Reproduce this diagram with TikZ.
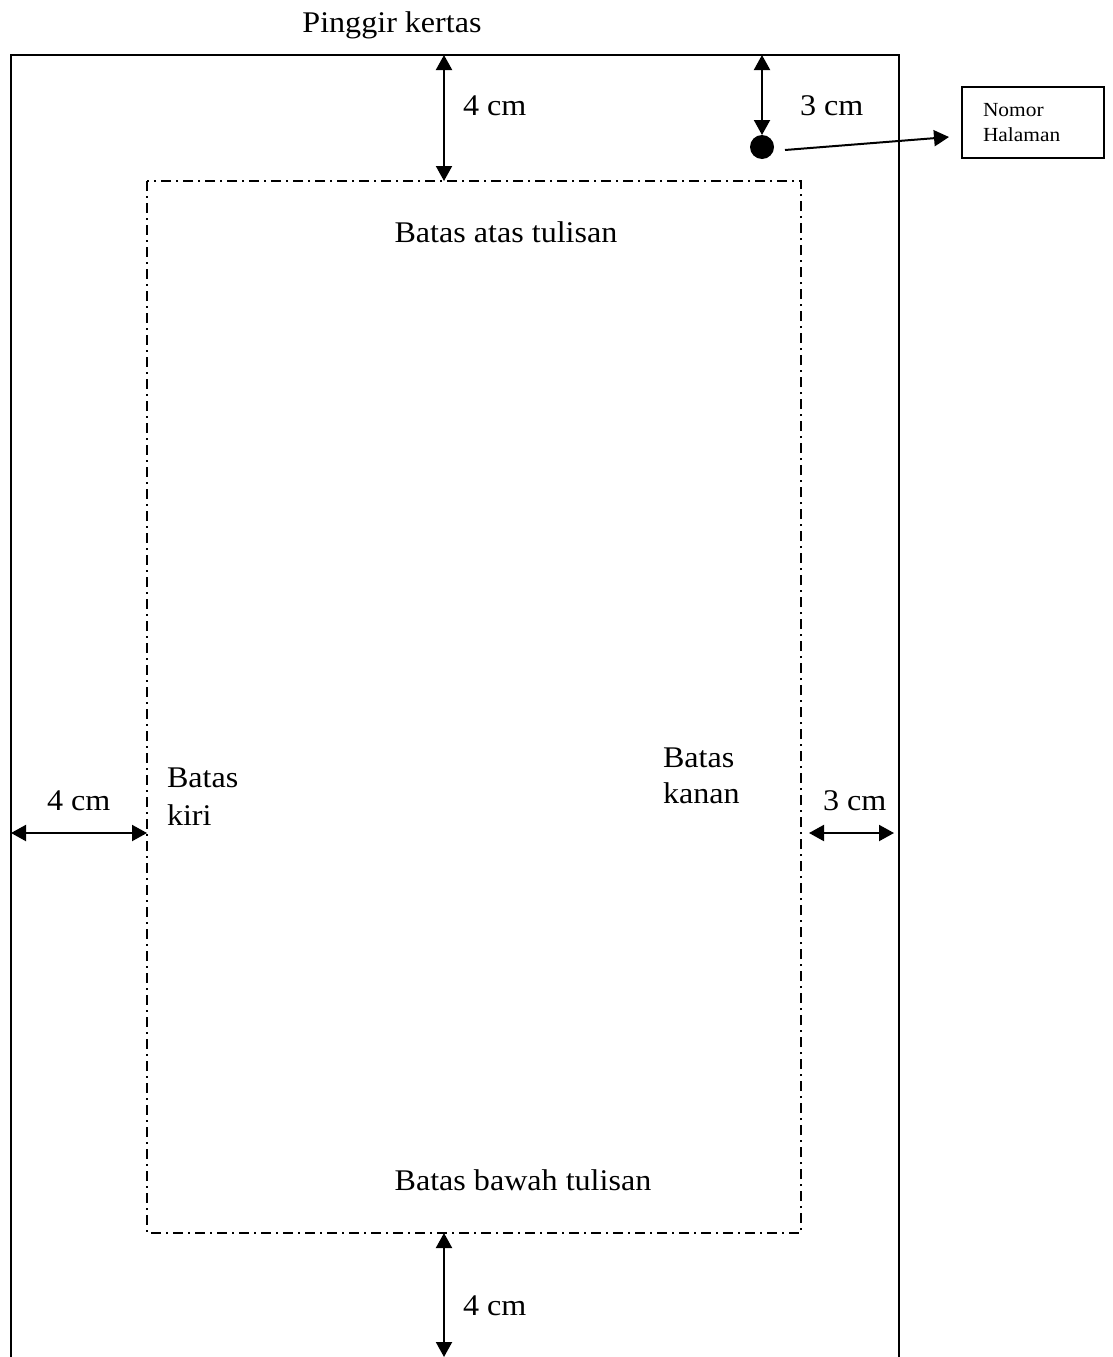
\documentclass[tikz,border=0pt]{standalone}
\usepackage{fontspec}
\setmainfont[FakeStretch=1.07]{Liberation Serif}
\usetikzlibrary{arrows.meta}
\begin{document}
\begin{tikzpicture}[x=1pt,y=-1pt,
  every node/.style={inner sep=0pt, outer sep=0pt},
  lbl/.style={font=\fontsize{30}{37}\selectfont},
  paper/.style={line width=2pt},
  textarea/.style={line width=1.6pt, dash pattern=on 10pt off 5pt on 2pt off 5pt},
  dim/.style={line width=2pt, {Triangle[length=15pt,width=16pt]}-{Triangle[length=15pt,width=16pt]}},
  pointer/.style={line width=2pt, -{Triangle[length=15pt,width=16pt]}},
  numbox/.style={draw, line width=1.5pt, text width=100pt, inner xsep=21pt, minimum height=71pt,
     align=left, font=\fontsize{20}{25}\selectfont}]
\useasboundingbox (0,0) rectangle (1112,1357);
% paper edge
\coordinate (pbl) at (11,1357);
\coordinate (ptl) at (11,55);
\coordinate (ptr) at (899,55);
\coordinate (pbr) at (899,1357);
\draw[paper] (pbl) -- (ptl) -- (ptr) -- (pbr);
% text area
\coordinate (ttl) at (147,181);
\coordinate (tbr) at (801,1233);
\draw[textarea] (ttl) rectangle (tbr);
% top margin
\coordinate (topA) at (444,55);
\coordinate (topB) at (444,181);
\draw[dim] (topA) -- (topB);
\node[lbl, anchor=base west] (t4) at (463,115) {4 cm};
% page number
\node[circle, fill=black, minimum size=24pt] (dot) at (762,147) {};
\coordinate (numA) at (762,55);
\draw[dim] (numA) -- (dot.north);
\node[lbl, anchor=base west] (t3) at (800,115) {3 cm};
\node[numbox] (nomor) at (1033,122.5) {Nomor\\Halaman};
\coordinate (ptrS) at (785,150);
\coordinate (ptrE) at (949,137);
\draw[pointer] (ptrS) -- (ptrE);
% title
\node[lbl, anchor=base] (pinggir) at (392,32) {Pinggir kertas};
\node[lbl, anchor=base] (atas) at (506,242) {Batas atas tulisan};
% left margin
\coordinate (leftA) at (11,833);
\coordinate (leftB) at (147,833);
\draw[dim] (leftA) -- (leftB);
\node[lbl, anchor=base west] (l4) at (47,810) {4 cm};
\node[lbl, anchor=base west] (kiri1) at (167,787) {Batas};
\node[lbl, anchor=base west] (kiri2) at (167,825) {kiri};
% right margin
\coordinate (rightA) at (809,833);
\coordinate (rightB) at (894,833);
\draw[dim] (rightA) -- (rightB);
\node[lbl, anchor=base west] (r3) at (823,810) {3 cm};
\node[lbl, anchor=base west] (kanan1) at (663,767) {Batas};
\node[lbl, anchor=base west] (kanan2) at (663,803) {kanan};
% bottom
\node[lbl, anchor=base] (bawah) at (523,1190) {Batas bawah tulisan};
\coordinate (botA) at (444,1233);
\coordinate (botB) at (444,1357);
\draw[dim] (botA) -- (botB);
\node[lbl, anchor=base west] (b4) at (463,1315) {4 cm};
\end{tikzpicture}
\end{document}
